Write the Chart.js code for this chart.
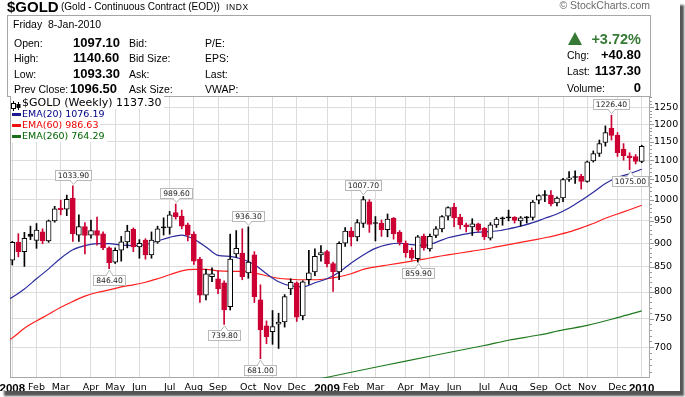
<!DOCTYPE html>
<html>
<head>
<meta charset="utf-8">
<title>$GOLD weekly</title>
<script src="https://cdn.jsdelivr.net/npm/chart.js@4.4.1/dist/chart.umd.min.js"></script>
<style>
html,body{margin:0;padding:0;background:#fff;}
body{width:685px;height:397px;overflow:hidden;position:relative;}
#frame{position:absolute;left:0;top:0;width:680px;height:391px;background:#fff;box-shadow:4px 5px 2px #555;}
#c{position:absolute;left:0;top:0;}
.t{position:absolute;white-space:pre;line-height:1;font-family:"Liberation Sans",Arial,sans-serif;color:#000;}
#hbox{position:absolute;left:7px;top:15px;width:644px;height:82px;box-sizing:border-box;border:1px solid #a6a6a6;}
.lg{position:absolute;line-height:1;background:#fff;white-space:pre;font-family:"DejaVu Sans",sans-serif;padding:1px 2px 1px 0;}
.dash{position:absolute;width:9px;height:3px;}
</style>
</head>
<body>
<div id="frame">
  <div id="hbox"></div>
  <canvas id="c" width="680" height="391"></canvas>
</div>
<script>
// ---------------- data ----------------
const symbol = '$GOLD';
const symbolName = '(Gold - Continuous Contract (EOD))';
const exchange = 'INDX';
const quoteDate = 'Friday  8-Jan-2010';
const quoteLabelsA = ['Open:', 'High:', 'Low:', 'Prev Close:'];
const quoteValuesA = ['1097.10', '1140.60', '1093.30', '1096.50'];
const quoteLabelsB = ['Bid:', 'Bid Size:', 'Ask:', 'Ask Size:'];
const quoteLabelsC = ['P/E:', 'EPS:', 'Last:', 'VWAP:'];
const changePct = '+3.72%';
const changeLabels = ['Chg:', 'Last:', 'Volume:'];
const changeValues = ['+40.80', '1137.30', '0'];

// weekly candles, week of 7-Jan-2008 (index 0) to week of 4-Jan-2010 (index 104)
const opens = [864,902,882,920,906,925,905,950,980,977, 1003,918,937,918,928,921,890,860,885,903,
  931,892,907,875,903,936,935,969,961,941, 920,866,794,830,826,818,772,877,879,838,
  875,785,737,727,740,744,806,818,755,824, 840,875,882,857,840,900,927,914,944,995,
  945,945,930,956,924,900,885,867,916,888, 917,932,961,982,959,941,936,943,933,911,
  941,956,958,958,950,958,958,999,1011,1011, 992,1004,1050,1056,1058,1045,1098,1118,1148,1188,
  1168,1130,1112,1110,1097.1];
const highs = [904,921,924,938,944,932,952,984,999,1011, 1033.9,964,946,952,959,925,892,890,915,940,
  934,908,910,925,938,957,972,989.6,975,945, 925,870,845,848,842,822,920,928,932,936.3,
  882,814,746,765,760,795,826,820,822,885, 888,895,885,860,903,935,935,953,1007.7,1000,
  960,952,966,958,928,905,890,917,920,920, 937,962,983,991,965,945,955,945,935,946,
  958,959,975,960,960,960,998,1012,1022,1022, 1007,1053,1070,1072,1063,1098,1125,1155,1195,1226.4,
  1176,1145,1120,1115,1140.6];
const lows = [854,871,851,908,889,899,902,947,964,962, 904,904,877,911,896,886,846.4,857,862,890,
  882,868,866,868,900,918,920,954,932,905, 855,780,785,820,797,739.8,766,870,824,827,
  780,681,706,705,698,735,795,745,748,815, 832,862,850,801,824,893,894,905,935,924,
  905,915,914,909,896,870,864,859.9,885,883, 912,925,952,937,932,925,917,925,908,907,
  935,940,950,945,938,945,952,990,995,985, 985,995,1045,1040,1026,1043,1095,1110,1138,1155,
  1110,1100,1075,1090,1093.3];
const closes = [902,882,911,915,929,905,950,978,976,1001, 921,937,917,928,917,890,859,885,903,927,
  892,900,875,907,932,934,964,960,938,918, 862,794,836,836,806,766,866,889,830,860,
  791,730,718,736,744,791,819,753,820,838, 872,880,856,840,900,927,914,946,1000,942,
  944,930,954,921,902,880,868,914,890,915, 932,960,981,957,941,936,943,929,914,941,
  954,955,957,951,957,957,994,1010,1010,990, 1004,1050,1054,1055,1045,1096,1118,1145,1176,1168,
  1120,1112,1106,1096.5,1137.3];

// moving averages (week index -> value)
const emaIdx = [-1,0,2,4,6,8,10,12,14,16,18,20,22,24,26,28,30,32,34,36,38,40,42,44,46,48,50,52,54,56,58,60,
  62,64,66,68,70,72,74,76,78,80,82,84,86,88,90,92,94,96,98,100,102,104];
const ema20Val = [784,790,806,826,846,868,886,895,899,899,896,895,897,905,913,918,909,892,874,872,866,855,
  836,820,812,810,818,826,839,858,875,889,897,900,897,895,902,912,918,923,925,927,932,938,946,956,966,980,
  998,1018,1040,1055,1065,1076.19];
const ema60Val = [711,716,733,746,758,771,782,792,799,804,810,814,819,826,834,842,845,845,842,841,841,838,
  832,827,825,824,824,826,830,836,845,850,854,858,862,866,871,875,879,883,887,892,897,902,907,912,918,925,
  934,944,956,966,976,986.63];
const ema260Idx = [51,56,61,65,69,74,78,82,87,91,95,100,104];
const ema260Val = [649,659,669,677,685,695,703,712,721,730,738,752,764.29];

// x-axis ticks (first week of each month)
const monthTickIdx = [0,4,8,13,17,21,26,30,34,39,43,47,52,56,60,65,69,73,78,82,87,91,95,100,104];
const monthTickLabels = ['2008','Feb','Mar','Apr','May','Jun','Jul','Aug','Sep','Oct','Nov','Dec',
  '2009','Feb','Mar','Apr','May','Jun','Jul','Aug','Sep','Oct','Nov','Dec','2010'];
const yTicks = [700,750,800,850,900,950,1000,1050,1100,1150,1200,1250];

// annotated highs / lows
const markIdx = [10,27,39,58,99,16,35,41,67,102];
const markType = ['high','high','high','high','high','low','low','low','low','low'];

// ---------------- header (HTML text) ----------------
const frame = document.getElementById('frame');
function addText(txt, x, baseline, size, o) {
  o = o || {};
  const d = document.createElement('div');
  d.className = 't';
  d.textContent = txt;
  d.style.fontSize = size + 'px';
  d.style.top = (baseline - 0.85 * size) + 'px';
  if (o.right) d.style.right = (680 - x) + 'px'; else d.style.left = x + 'px';
  if (o.bold) d.style.fontWeight = 'bold';
  if (o.color) d.style.color = o.color;
  if (o.family) d.style.fontFamily = o.family;
  if (o.ls) d.style.letterSpacing = o.ls;
  frame.appendChild(d);
  return d;
}
addText(symbol, 7, 11.5, 15, {bold:true});
addText(symbolName, 61, 10.5, 10);
addText(exchange, 226, 10.5, 8.5, {ls:'0.6px'});
addText('\u00A9 StockCharts.com', 650, 8.8, 10.5, {right:true, color:'#6b6b6b'});
addText(quoteDate, 13, 28, 10.5);
const rowBase = [46.5, 62, 77.5, 92.5];
rowBase.forEach((b, i) => {
  addText(quoteLabelsA[i], 14, b, 10.5);
  addText(quoteValuesA[i], i === 3 ? 70 : 73, b + 0.5, 13, {bold:true});
  addText(quoteLabelsB[i], 129, b, 10.5);
  addText(quoteLabelsC[i], 205, b, 10.5);
});
const green = '#367a36';
const tri = document.createElement('div');
tri.style.cssText = 'position:absolute;left:568px;top:32px;width:0;height:0;border-left:7px solid transparent;border-right:7px solid transparent;border-bottom:13px solid ' + green + ';';
frame.appendChild(tri);
addText(changePct, 641, 44.5, 14.5, {right:true, bold:true, color:green});
const chgBase = [59, 75, 91.5];
chgBase.forEach((b, i) => {
  addText(changeLabels[i], 567, b, 10.5);
  addText(changeValues[i], 641, b + 0.3, 13, {right:true, bold:true});
});

// ---------------- legend (HTML text) ----------------
const last = closes.length - 1;
function addLegend(txt, top, size, color, dashColor) {
  const d = document.createElement('div');
  d.className = 'lg';
  d.style.left = '22px';
  d.style.top = (top - 1) + 'px';
  d.style.fontSize = size + 'px';
  d.style.color = color;
  d.textContent = txt;
  frame.appendChild(d);
  const bg = document.createElement('div');
  bg.style.cssText = 'position:absolute;left:11px;width:12px;background:#fff;top:' + (top - 1) + 'px;height:' + (size + 3) + 'px;';
  frame.insertBefore(bg, d);
  if (dashColor) {
    const ds = document.createElement('div');
    ds.className = 'dash';
    ds.style.left = '12px';
    ds.style.top = (top + size * 0.5 - 1) + 'px';
    ds.style.background = dashColor;
    frame.appendChild(ds);
  }
  return d;
}
addLegend(symbol + ' (Weekly) ' + closes[last].toFixed(2), 96.6, 11, '#000', null);
addLegend('EMA(20) ' + ema20Val[ema20Val.length - 1].toFixed(2), 108.8, 9.5, '#000088', '#1c1c90');
addLegend('EMA(60) ' + ema60Val[ema60Val.length - 1].toFixed(2), 119.8, 9.5, '#ee0000', '#ee1111');
addLegend('EMA(260) ' + ema260Val[ema260Val.length - 1].toFixed(2), 131.2, 9.5, '#006400', '#1a6e1a');
// tiny candle icon
const icon = document.createElement('div');
icon.innerHTML = '<svg width="10" height="10" xmlns="http://www.w3.org/2000/svg">' +
  '<line x1="2.5" y1="0" x2="2.5" y2="10" stroke="#000" stroke-width="1"/>' +
  '<rect x="0.5" y="2.5" width="4" height="5" fill="#fff" stroke="#000"/>' +
  '<line x1="7.5" y1="1" x2="7.5" y2="9" stroke="#000" stroke-width="1"/>' +
  '<rect x="5.5" y="3" width="4" height="4" fill="#000"/></svg>';
icon.style.cssText = 'position:absolute;left:11px;top:97px;width:10px;height:10px;';
frame.appendChild(icon);

// ---------------- chart ----------------
const RED = '#cc0033';
const candleColor = closes.map((c, i) => (i === 0 ? c >= opens[i] : c >= closes[i - 1]) ? '#000000' : RED);
const bodyFill = closes.map((c, i) => c > opens[i] ? '#ffffff' : candleColor[i]);
const yearTick = new Set(monthTickLabels.map((l, i) => /^\d{4}$/.test(l) ? i : -1).filter(i => i >= 0));

const framePlugin = {
  id: 'frame',
  beforeDatasetsDraw(chart) {
    const {ctx, chartArea: a, scales: {y}} = chart;
    ctx.save();
    ctx.strokeStyle = '#a8a8a8';
    ctx.lineWidth = 1;
    ctx.strokeRect(a.left + 0.5, a.top + 0.5, a.right - a.left - 1, a.bottom - a.top - 1);
    ctx.strokeStyle = '#999';
    for (let v = 660; v <= 1280; v += 10) {
      const py = Math.round(y.getPixelForValue(v)) + 0.5;
      if (py < a.top || py > a.bottom) continue;
      const len = v % 50 === 0 ? 4 : 2;
      ctx.beginPath();
      ctx.moveTo(a.right, py);
      ctx.lineTo(a.right + len, py);
      ctx.stroke();
    }
    ctx.restore();
  }
};

const markerPlugin = {
  id: 'markers',
  afterDatasetsDraw(chart) {
    const {ctx, scales: {x, y}} = chart;
    ctx.save();
    ctx.font = '7.6px "DejaVu Sans"';
    ctx.lineWidth = 1;
    markIdx.forEach((idx, k) => {
      const isHigh = markType[k] === 'high';
      const val = isHigh ? highs[idx] : lows[idx];
      const px = x.getPixelForValue(idx);
      const py = y.getPixelForValue(val);
      const text = val.toFixed(2);
      const tw = ctx.measureText(text).width;
      const bw = Math.round(tw + 5), bh = 10;
      const bx = Math.round(px - bw / 2) + 0.5;
      const by = isHigh ? Math.round(py - 6 - bh) + 0.5 : Math.round(py + 6) + 0.5;
      ctx.fillStyle = '#fff';
      ctx.strokeStyle = '#b8b8b8';
      ctx.fillRect(bx, by, bw, bh);
      ctx.strokeRect(bx, by, bw, bh);
      const baseY = isHigh ? by + bh : by;
      const tipY = isHigh ? py - 1.5 : py + 1.5;
      const cx = Math.round(px) + 0.5;
      ctx.beginPath();
      ctx.moveTo(cx - 3.5, baseY);
      ctx.lineTo(cx, tipY);
      ctx.lineTo(cx + 3.5, baseY);
      ctx.fill();
      ctx.stroke();
      ctx.fillStyle = '#fff';
      ctx.fillRect(cx - 2.5, isHigh ? baseY - 1 : baseY - 0.5, 5, 1.5);
      ctx.fillStyle = '#1a1a1a';
      ctx.textAlign = 'center';
      ctx.textBaseline = 'middle';
      ctx.fillText(text, bx + bw / 2, by + bh / 2 + 0.5);
    });
    ctx.restore();
  }
};

const yMin = 649.9, yMax = 1284.6;

new Chart(document.getElementById('c').getContext('2d'), {
  type: 'bar',
  data: {
    datasets: [
      { type:'bar', label:'body', data: opens.map((o, i) => ({x:i, y:[o, closes[i]]})),
        backgroundColor: bodyFill, borderColor: candleColor, borderWidth: 1, borderSkipped: false,
        barThickness: 5, minBarLength: 1, grouped: false, order: 0 },
      { type:'bar', label:'wick', data: highs.map((h, i) => ({x:i, y:[lows[i], h]})),
        backgroundColor: candleColor, borderWidth: 0, barThickness: 1, grouped: false, order: 1 },
      { type:'line', label:'EMA(20)', data: emaIdx.map((x, k) => ({x, y: ema20Val[k]})),
        borderColor:'#2a2a9e', borderWidth:1.2, pointRadius:0, cubicInterpolationMode:'monotone', order:2 },
      { type:'line', label:'EMA(60)', data: emaIdx.map((x, k) => ({x, y: ema60Val[k]})),
        borderColor:'#ff1f1f', borderWidth:1.2, pointRadius:0, cubicInterpolationMode:'monotone', order:3 },
      { type:'line', label:'EMA(260)', data: ema260Idx.map((x, k) => ({x, y: ema260Val[k]})),
        borderColor:'#1f7a1f', borderWidth:1.2, pointRadius:0, cubicInterpolationMode:'monotone', order:4 }
    ]
  },
  options: {
    responsive: false, maintainAspectRatio: false, animation: false, devicePixelRatio: 1,
    events: [],
    layout: { padding: { left: 10, top: 96, right: 0, bottom: 0 } },
    plugins: { legend: { display: false }, tooltip: { enabled: false } },
    scales: {
      x: {
        type: 'linear', bounds: 'data', min: -0.38, max: 105.37, offset: false,
        grid: { color: '#dcdcdc', lineWidth: 1, drawTicks: false, offset: false },
        border: { display: false },
        afterBuildTicks: s => { s.ticks = monthTickIdx.map(v => ({ value: v })); },
        afterFit: s => { s.height = 13; s.paddingLeft = 0; s.paddingRight = 0; },
        ticks: {
          autoSkip: false, maxRotation: 0, minRotation: 0, padding: 4, color: '#000',
          callback: (v, i) => monthTickLabels[i],
          font: c => yearTick.has(c.index)
            ? { family: '"Liberation Sans", Arial, sans-serif', size: 11.5, weight: 'bold' }
            : { family: '"DejaVu Sans", sans-serif', size: 9.5 }
        }
      },
      y: {
        type: 'logarithmic', position: 'right', bounds: 'data', min: yMin, max: yMax,
        grid: { color: '#dcdcdc', drawTicks: false },
        border: { display: false },
        afterBuildTicks: s => { s.ticks = yTicks.map(v => ({ value: v })); },
        afterFit: s => { s.width = 30; s.paddingTop = 0; s.paddingBottom = 0; },
        ticks: { padding: 4, color: '#000', font: { family: '"DejaVu Sans", sans-serif', size: 9.5 },
          callback: v => String(v) }
      }
    }
  },
  plugins: [framePlugin, markerPlugin]
});
</script>
</body>
</html>
